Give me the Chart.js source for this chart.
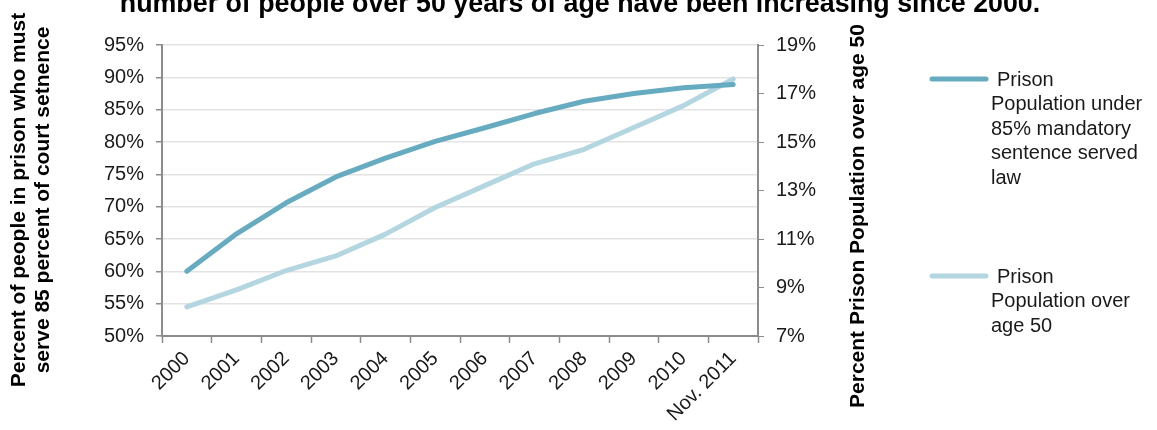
<!DOCTYPE html>
<html>
<head>
<meta charset="utf-8">
<script src="https://cdn.jsdelivr.net/npm/chart.js@4"></script>
<style>
  html, body { margin: 0; padding: 0; background: #fff; }
  #wrap { width: 1157px; height: 430px; }
</style>
</head>
<body>
<div id="wrap"><canvas id="prisonChart" width="1157" height="430"></canvas></div>
<script>
// data
const years = ["2000", "2001", "2002", "2003", "2004", "2005", "2006", "2007", "2008", "2009", "2010", "Nov. 2011"];
const mandatoryShare = [60.0, 65.8, 70.6, 74.6, 77.5, 80.1, 82.2, 84.4, 86.3, 87.5, 88.4, 88.9];
const over50Share = [8.2, 8.9, 9.7, 10.3, 11.2, 12.3, 13.2, 14.1, 14.7, 15.6, 16.5, 17.6];

const titleText = "number of people over 50 years of age have been increasing since 2000.";
const leftTitle = ["Percent of people in prison who must", "serve 85 percent of court setnence"];
const rightTitle = "Percent Prison Population over age 50";
const legendItems = [
    { lines: ["Prison", "Population under", "85% mandatory", "sentence served", "law"], color: "#67abc1" },
    { lines: ["Prison", "Population over", "age 50"], color: "#b4d6e0" },
];

const FONT = "'Liberation Sans', Arial, sans-serif";
const AXIS_GREY = "#8c8c8c";

const textPlugin = {
    id: "extraText",
    afterDraw(chart) {
        const c = chart.ctx;
        c.save();
        c.fillStyle = "#000";

        // title (top is cut off in the original)
        c.font = "bold 26.8px " + FONT;
        c.textAlign = "center";
        c.textBaseline = "alphabetic";
        c.fillText(titleText, 580, 12);

        // left axis title, two lines
        c.font = "bold 21px " + FONT;
        c.textBaseline = "middle";
        [19, 43].forEach((x, i) => {
            c.save();
            c.translate(x, 200);
            c.rotate(-Math.PI / 2);
            c.fillText(leftTitle[i], 0, 0);
            c.restore();
        });

        // right axis title
        c.save();
        c.translate(858, 216);
        c.rotate(-Math.PI / 2);
        c.fillText(rightTitle, 0, 0);
        c.restore();

        // legend
        c.font = "20px " + FONT;
        c.textAlign = "left";
        c.fillStyle = "#1a1a1a";
        const tops = [79, 276];
        legendItems.forEach((item, k) => {
            const y0 = tops[k];
            c.strokeStyle = item.color;
            c.lineWidth = 5;
            c.lineCap = "round";
            c.beginPath();
            c.moveTo(932, y0);
            c.lineTo(986, y0);
            c.stroke();
            item.lines.forEach((ln, j) => {
                c.fillText(ln, j === 0 ? 997 : 991, y0 + 1 + j * 24.5);
            });
        });
        c.restore();
    },
};

new Chart(document.getElementById("prisonChart"), {
    type: "line",
    data: {
        labels: years,
        datasets: [
            {
                label: "Prison Population under 85% mandatory sentence served law",
                data: mandatoryShare,
                yAxisID: "y",
                borderColor: "#67abc1",
                backgroundColor: "#67abc1",
                borderWidth: 5,
                borderCapStyle: "round",
                borderJoinStyle: "round",
                pointRadius: 0,
                tension: 0,
            },
            {
                label: "Prison Population over age 50",
                data: over50Share,
                yAxisID: "y1",
                borderColor: "#b4d6e0",
                backgroundColor: "#b4d6e0",
                borderWidth: 5,
                borderCapStyle: "round",
                borderJoinStyle: "round",
                pointRadius: 0,
                tension: 0,
            },
        ],
    },
    options: {
        responsive: false,
        animation: false,
        layout: { padding: { top: 45, left: 0, right: 0, bottom: 0 } },
        plugins: {
            legend: { display: false },
            title: { display: false },
            tooltip: { enabled: false },
        },
        scales: {
            x: {
                offset: true,
                grid: {
                    offset: true,
                    drawOnChartArea: false,
                    drawTicks: true,
                    tickLength: 7,
                    tickColor: AXIS_GREY,
                    tickWidth: 1.5,
                },
                border: { color: AXIS_GREY, width: 2 },
                ticks: {
                    minRotation: 45,
                    maxRotation: 45,
                    padding: 4,
                    color: "#1a1a1a",
                    font: { family: FONT, size: 20 },
                },
                afterFit: (s) => { s.height = 430 - 336; },
            },
            y: {
                position: "left",
                min: 50,
                max: 95,
                ticks: {
                    stepSize: 5,
                    padding: 12,
                    color: "#1a1a1a",
                    font: { family: FONT, size: 20 },
                    callback: (v) => v + "%",
                },
                grid: {
                    color: "#e3e3e3",
                    lineWidth: 1.5,
                    tickColor: AXIS_GREY,
                    tickLength: 6,
                },
                border: { color: AXIS_GREY, width: 2 },
                afterFit: (s) => { s.width = 162; },
            },
            y1: {
                position: "right",
                min: 7,
                max: 19,
                ticks: {
                    stepSize: 2,
                    padding: 12,
                    color: "#1a1a1a",
                    font: { family: FONT, size: 20 },
                    callback: (v) => v + "%",
                },
                grid: {
                    drawOnChartArea: false,
                    tickColor: AXIS_GREY,
                    tickLength: 6,
                },
                border: { color: AXIS_GREY, width: 2 },
                afterFit: (s) => { s.width = 1157 - 758; },
            },
        },
    },
    plugins: [textPlugin],
});
</script>
</body>
</html>
